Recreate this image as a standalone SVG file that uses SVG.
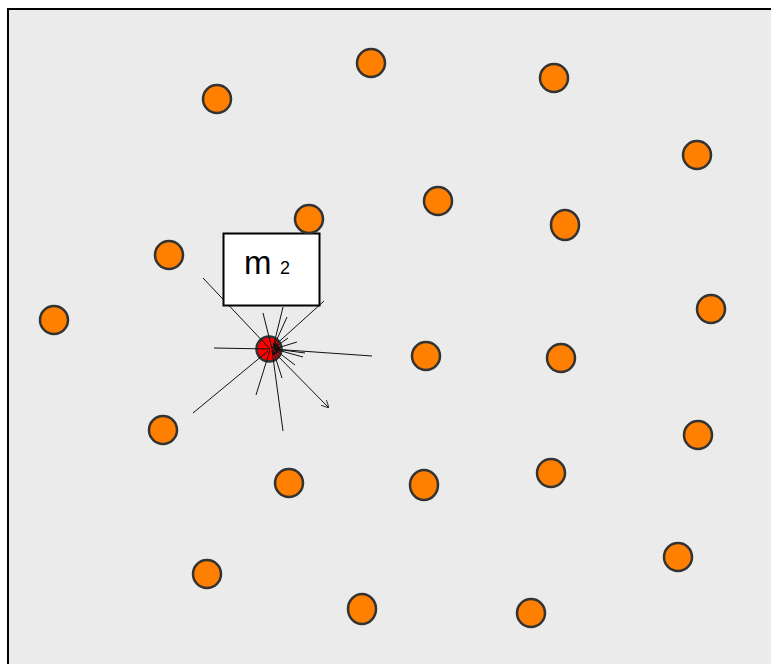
<svg xmlns="http://www.w3.org/2000/svg" width="771" height="664" viewBox="0 0 771 664">
<style>
.n{fill:#ff7f00;stroke:#333;stroke-width:2.5}
.e{stroke:#111;stroke-width:1;fill:none}
.t{font-family:"Liberation Sans",Arial,sans-serif;fill:#000}
</style>
<defs>
<marker id="ah" viewBox="0 0 10 10" refX="10" refY="5" markerWidth="8" markerHeight="8" orient="auto" markerUnits="userSpaceOnUse">
<path d="M0,0 L10,5 L0,10" fill="none" stroke="#333" stroke-width="1.2"/>
</marker>
<marker id="ai" viewBox="0 0 10 10" refX="10" refY="5" markerWidth="5" markerHeight="5" orient="auto" markerUnits="userSpaceOnUse">
<path d="M0,0 L10,5 L0,10z" fill="#111"/>
</marker>
</defs>
<rect x="0" y="0" width="771" height="664" fill="#fff"/>
<rect x="8" y="9" width="770" height="662" fill="#ebebeb" stroke="#000" stroke-width="2"/>
<g id="node-center"><circle cx="269" cy="349" r="12.5" fill="#ff0000" stroke="#333" stroke-width="2.5"/></g>
<g id="connectors">
<line class="e" x1="203" y1="278" x2="270" y2="349"/>
<line class="e" x1="214" y1="348" x2="270" y2="349"/>
<line class="e" x1="193" y1="413" x2="268" y2="351"/>
<line class="e" x1="256" y1="395" x2="270" y2="350"/>
<line class="e" x1="283" y1="431" x2="272" y2="350"/>
<line class="e" x1="372" y1="356" x2="272" y2="349"/>
<line class="e" x1="324" y1="301" x2="272" y2="348"/>
<line class="e" x1="263" y1="313" x2="272" y2="349"/>
<line class="e" x1="283" y1="307" x2="273" y2="348"/>
<line class="e" x1="287" y1="317" x2="273" y2="348" marker-end="url(#ai)"/>
<line class="e" x1="297" y1="342" x2="274" y2="349" marker-end="url(#ai)"/>
<line class="e" x1="303" y1="357" x2="274" y2="349" marker-end="url(#ai)"/>
<line class="e" x1="295" y1="365" x2="274" y2="349" marker-end="url(#ai)"/>
<line class="e" x1="282" y1="378" x2="273" y2="350" marker-end="url(#ai)"/>
<line class="e" x1="288" y1="338" x2="274" y2="348" marker-end="url(#ai)"/>
<line class="e" x1="305" y1="353" x2="275" y2="349" marker-end="url(#ai)"/>
<line class="e" x1="272" y1="350" x2="329" y2="408" marker-end="url(#ah)"/>
</g>
<g id="label-m2">
<rect x="223.5" y="233.5" width="96" height="72" fill="#fff" stroke="#000" stroke-width="2"/>
<text class="t" x="244" y="274" font-size="33">m</text>
<text class="t" x="280" y="274" font-size="18">2</text>
</g>
<g id="n1"><circle class="n" cx="217" cy="99" r="14"/></g>
<g id="n2"><circle class="n" cx="371" cy="63" r="14"/></g>
<g id="n3"><circle class="n" cx="554" cy="78" r="14"/></g>
<g id="n4"><circle class="n" cx="697" cy="155" r="14"/></g>
<g id="n5"><circle class="n" cx="309" cy="219" r="14"/></g>
<g id="n6"><circle class="n" cx="438" cy="201" r="14"/></g>
<g id="n7"><ellipse class="n" cx="565" cy="225" rx="14" ry="15"/></g>
<g id="n8"><circle class="n" cx="169" cy="255" r="14"/></g>
<g id="n9"><circle class="n" cx="54" cy="320" r="14"/></g>
<g id="n10"><circle class="n" cx="711" cy="309" r="14"/></g>
<g id="n11"><circle class="n" cx="426" cy="356" r="14"/></g>
<g id="n12"><circle class="n" cx="561" cy="358" r="14"/></g>
<g id="n13"><circle class="n" cx="163" cy="430" r="14"/></g>
<g id="n14"><circle class="n" cx="698" cy="435" r="14"/></g>
<g id="n15"><circle class="n" cx="289" cy="483" r="14"/></g>
<g id="n16"><ellipse class="n" cx="424" cy="485" rx="14" ry="15"/></g>
<g id="n17"><circle class="n" cx="551" cy="473" r="14"/></g>
<g id="n18"><circle class="n" cx="207" cy="574" r="14"/></g>
<g id="n19"><circle class="n" cx="678" cy="557" r="14"/></g>
<g id="n20"><ellipse class="n" cx="362" cy="609" rx="14" ry="15"/></g>
<g id="n21"><circle class="n" cx="531" cy="613" r="14"/></g>
</svg>
